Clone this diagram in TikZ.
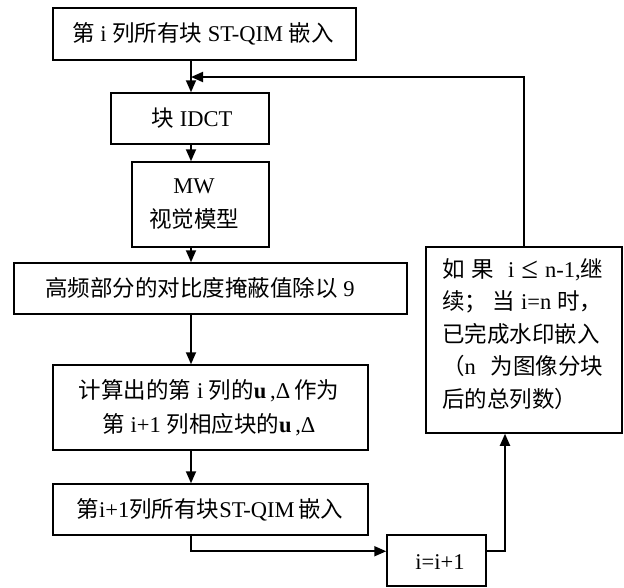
\documentclass[tikz,border=0pt]{standalone}
\usepackage{fontspec}
\setmainfont{Liberation Serif}
\newfontfamily\cjk{Noto Sans CJK SC}
\newcommand{\zh}[1]{{\cjk #1}}
\usetikzlibrary{arrows.meta}
\begin{document}
\begin{tikzpicture}[x=1pt,y=-1pt,
  every node/.style={font=\fontsize{22.5}{34}\selectfont, inner sep=0pt},
  box/.style={draw, line width=1.5pt, rectangle},
  arr/.style={line width=1.8pt, -{Triangle[length=12pt,width=10pt]}}]
\useasboundingbox (0,0) rectangle (624,587);
\coordinate (spine) at (191,0);
\coordinate (j) at (191,77);

% main column
\node[box, minimum width=303pt, minimum height=52pt] (b1) at (204.5,34) {};
\node (b1t) at (203,34) {\zh{第} i \zh{列所有块} ST-QIM \zh{嵌入}};

\node[box, minimum width=158pt, minimum height=51pt] (b2) at (190,118.5) {};
\node (b2t) at (192,118.5) {\zh{块} IDCT};

\node[box, minimum width=137pt, minimum height=85pt] (b3) at (200.5,204.5) {};
\node[align=center] (b3t) at (194,204.5) {MW\\\zh{视觉模型}};

\node[box, minimum width=393pt, minimum height=51pt] (b4) at (210.5,288.5) {};
\node (b4t) at (200,288) {\zh{高频部分的对比度掩蔽值除以} 9};

\node[box, minimum width=315pt, minimum height=85pt] (b5) at (210.5,407.5) {};
\node[align=center] (b5t) at (209,408) {\zh{计算出的第} i \zh{列的}\textbf{u}\,,Δ\,\zh{作为}\\\zh{第} i+1 \zh{列相应块的}\textbf{u}\,,Δ};

\node[box, minimum width=315pt, minimum height=51pt] (b6) at (210.5,509.5) {};
\node (b6t) at (210,510) {\zh{第}i+1\zh{列所有块}ST-QIM\,\zh{嵌入}};

\node[box, minimum width=99pt, minimum height=51pt] (b7) at (436.5,560.5) {};
\node (b7t) at (440,562) {i=i+1};

% loop condition box
\node[box, minimum width=196pt, minimum height=186pt] (br) at (524,340) {};
\node[align=left, anchor=north west, font=\fontsize{22.5}{32.5}\selectfont] (brt) at (442,258) {%
  \makebox[161pt][s]{\zh{如} \zh{果} \ i \raisebox{-1pt}{\scalebox{1.35}{≤}} n-1,\zh{继}}\\
  \makebox[160pt][s]{\zh{续；} \zh{当} i=n \zh{时，}}\\
  \zh{已完成水印嵌入}\\
  \makebox[161pt][s]{\zh{（}n \zh{为图像分块}}\\
  \zh{后的总列数）}};

% connectors
\draw[arr] (b1.south -| spine) -- (b2.north -| spine);
\draw[arr] (b2.south -| spine) -- (b3.north -| spine);
\draw[arr] (b3.south -| spine) -- (b4.north -| spine);
\draw[arr] (b4.south -| spine) -- (b5.north -| spine);
\draw[arr] (b5.south -| spine) -- (b6.north -| spine);
\draw[arr] (b6.south -| spine) |- ([yshift=-17pt]b7.north west);
\draw[arr] ([yshift=-17pt]b7.north east) -| ([xshift=-19pt]br.south);
\draw[arr] (br.north) |- (j);
\end{tikzpicture}
\end{document}
